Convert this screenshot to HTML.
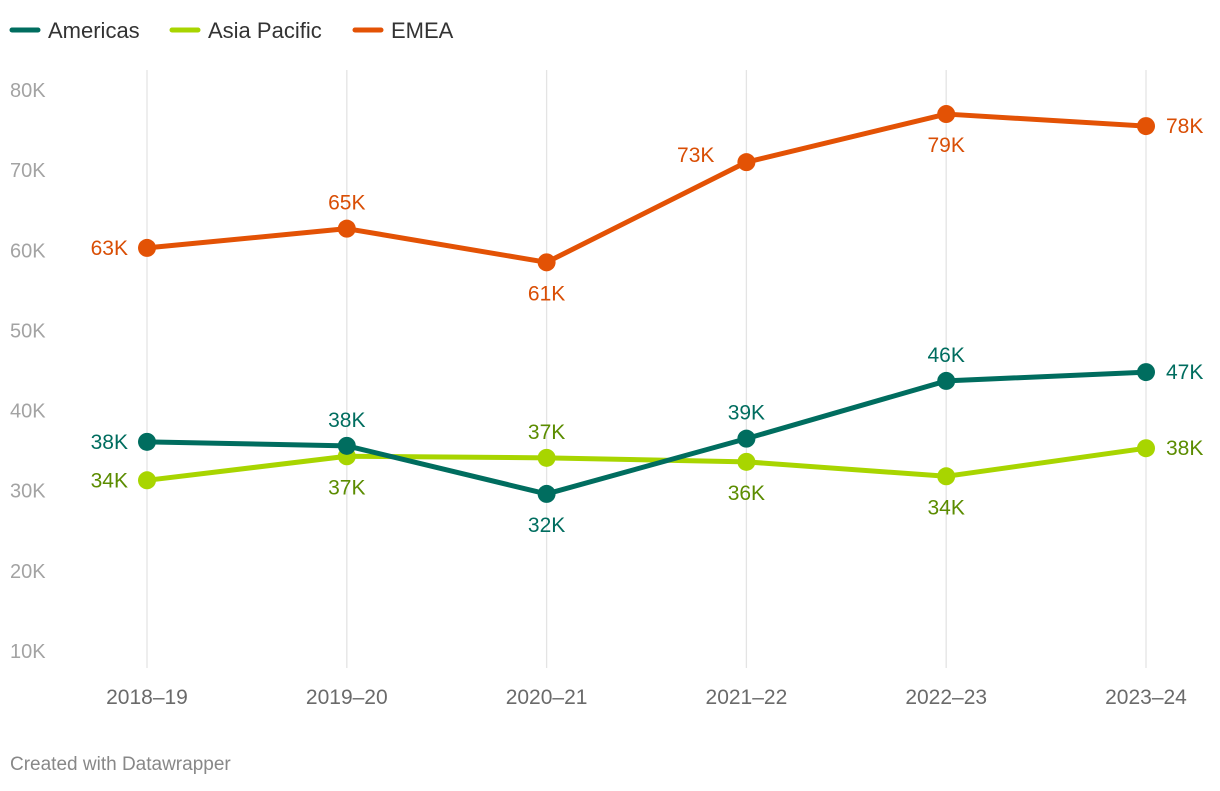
<!DOCTYPE html>
<html><head><meta charset="utf-8"><style>
body{margin:0;background:#fff;width:1220px;height:786px;overflow:hidden;font-family:"Liberation Sans",sans-serif}
</style></head><body>
<svg id="chart" width="1220" height="786" xmlns="http://www.w3.org/2000/svg" font-family="Liberation Sans, sans-serif"></svg>
<script>
const categories=["2018–19","2019–20","2020–21","2021–22","2022–23","2023–24"];
const americas=[36.1,35.6,29.6,36.5,43.7,44.8];
const asiaPacific=[31.3,34.3,34.1,33.6,31.8,35.3];
const emea=[60.3,62.7,58.5,71.0,77.0,75.5];
const americasLabels=["38K","38K","32K","39K","46K","47K"];
const asiaLabels=["34K","37K","37K","36K","34K","38K"];
const emeaLabels=["63K","65K","61K","73K","79K","78K"];
const americasPlace=["left","above","below","above","above","right"];
const asiaPlace=["left","below","above","below","below","right"];
const emeaPlace=["left","above","below","leftup","below","right"];
const yTicks=[10,20,30,40,50,60,70,80];
const seriesNames=["Americas","Asia Pacific","EMEA"];

const svg=document.getElementById('chart');
const NS='http://www.w3.org/2000/svg';
const x=i=>147+i*199.8;
const y=v=>651-(v-10)*8.014;
function mk(t,a,p){const e=document.createElementNS(NS,t);for(const k in a)e.setAttribute(k,a[k]);(p||svg).appendChild(e);return e;}

categories.forEach((c,i)=>{
 const g=mk('line',{x1:x(i),x2:x(i),y1:70,y2:668,stroke:'#e4e4e4','stroke-width':1.3});
 
 
 const t=mk('text',{x:x(i),y:704,'text-anchor':'middle','font-size':21,fill:'#6a6a6a'});
 t.textContent=c;
 
 
});
yTicks.forEach(v=>{
 const t=mk('text',{x:10,y:y(v)+7,'font-size':20,fill:'#a3a3a3'});
 t.textContent=v+'K';
 
 
});

function series(vals,labels,place,color,lblColor,name){
 const g=mk('g',{});
 
 
 const pl=mk('polyline',{points:vals.map((v,i)=>x(i)+','+y(v)).join(' '),fill:'none',stroke:color,'stroke-width':5,'stroke-linejoin':'round'},g);
 
 
 vals.forEach((v,i)=>{
  const c=mk('circle',{cx:x(i),cy:y(v),r:9,fill:color},g);
  
  
  let tx=x(i),ty=y(v)+7,anc='middle';
  const p=place[i];
  if(p==='left'){tx=x(i)-19;anc='end';}
  else if(p==='right'){tx=x(i)+20;anc='start';}
  else if(p==='above'){ty=y(v)-19;}
  else if(p==='below'){ty=y(v)+38;}
  else if(p==='leftup'){tx=x(i)-32;anc='end';ty=y(v)+0;}
  const t=mk('text',{x:tx,y:ty,'text-anchor':anc,'font-size':21,fill:lblColor},g);
  t.textContent=labels[i];
  
  
 });
}
series(asiaPacific,asiaLabels,asiaPlace,'#a8d500','#5b8c00','asia-pacific');
series(americas,americasLabels,americasPlace,'#006d5f','#006d5f','americas');
series(emea,emeaLabels,emeaPlace,'#e35205','#d94e05','emea');

const lc=['#006d5f','#a8d500','#e35205'];
const lx=[12,172,355];
seriesNames.forEach((n,i)=>{
 const g=mk('g',{});
 
 
 mk('line',{x1:lx[i],x2:lx[i]+26,y1:30,y2:30,stroke:lc[i],'stroke-width':5,'stroke-linecap':'round'},g);
 const t=mk('text',{x:lx[i]+36,y:38,'font-size':22,fill:'#333'},g);
 t.textContent=n;
});
const f=mk('text',{x:10,y:770,'font-size':19,fill:'#888'});
f.textContent='Created with Datawrapper';


</script>
</body></html>
